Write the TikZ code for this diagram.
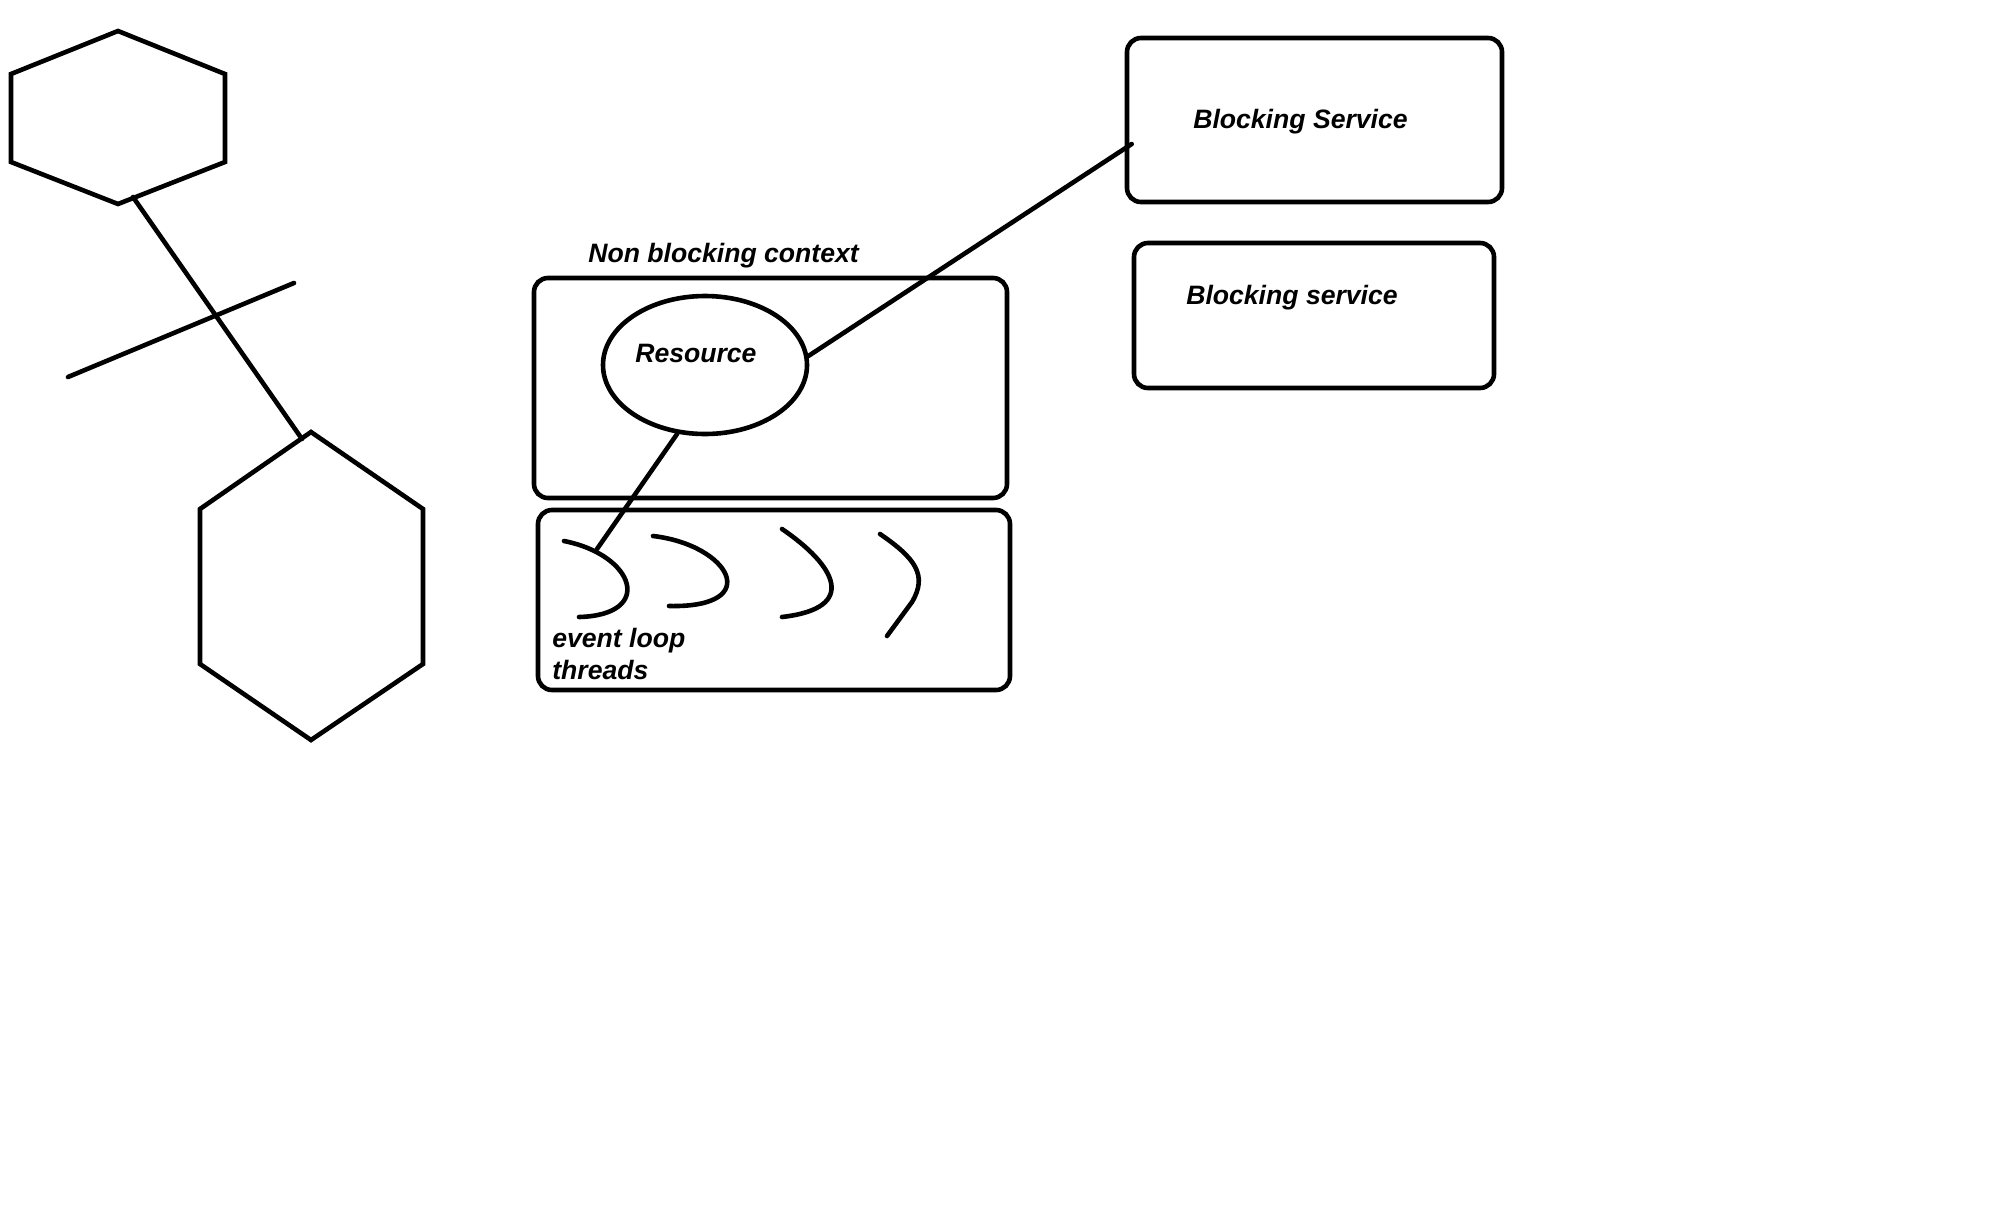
\documentclass[tikz,border=0pt]{standalone}
\usepackage{fontspec}
\setmainfont{Liberation Sans}
\usetikzlibrary{shapes.geometric,calc}
\begin{document}
\begin{tikzpicture}[x=0.5pt,y=-0.5pt,
  line width=2.3pt, line cap=round, line join=miter,
  box/.style={draw, rounded corners=7pt, inner sep=0pt},
  lbl/.style={font=\fontsize{13.3pt}{15pt}\selectfont\bfseries\itshape, inner sep=0pt, anchor=base west},
  thread/.style={draw, line cap=round}]
\useasboundingbox (0,0) rectangle (1992,1227);

% hexagons
\draw (118,31) -- (225,74) -- (225,162) -- (118,204) -- (11,162) -- (11,74) -- cycle;
\draw (311,432) -- (423,509) -- (423,664) -- (311,740) -- (200,664) -- (200,509) -- cycle;
\coordinate (hexA) at (133,197);
\coordinate (hexB) at (302,439);
\coordinate (crossA) at (68,377);
\coordinate (crossB) at (294,283);
\draw (hexA) -- (hexB);
\draw (crossA) -- (crossB);

% non blocking context
\node[box, minimum width=236.5pt, minimum height=110pt] (nbc) at (770.5,388) {};
\node[lbl] (nbclabel) at (586,262) {Non blocking context};
\node[draw, ellipse, inner sep=0pt, minimum width=102pt, minimum height=69pt] (res) at (705,365) {};
\node[lbl] (reslabel) at (633,362) {Resource};

% event loop threads
\node[box, minimum width=236pt, minimum height=90pt] (elt) at (774,600) {};
\node[lbl] (elt1) at (550,647) {event loop};
\node[lbl] (elt2) at (550,679) {threads};

\draw[thread] (564,541) .. controls (635,555) and (655,615) .. (579,617);
\draw[thread] (653,536) .. controls (730,545) and (765,608) .. (669,606);
\draw[thread] (782,529) .. controls (835,565) and (860,608) .. (782,617);
\draw[thread] (880,534) .. controls (915,558) and (928,575) .. (912,602) -- (887,636);
\coordinate (th1) at (597,549);

% blocking services
\node[box, minimum width=187.5pt, minimum height=82pt] (bs1) at (1314.5,120) {};
\node[lbl] (bs1label) at (1191,128) {Blocking Service};
\node[box, minimum width=180pt, minimum height=72.5pt] (bs2) at (1314,315.5) {};
\node[lbl] (bs2label) at (1184,304) {Blocking service};

% connectors
\draw (res.5) -- ([xshift=3.5pt,yshift=-12pt]bs1.west);
\draw (res.248) -- (th1);
\end{tikzpicture}
\end{document}
